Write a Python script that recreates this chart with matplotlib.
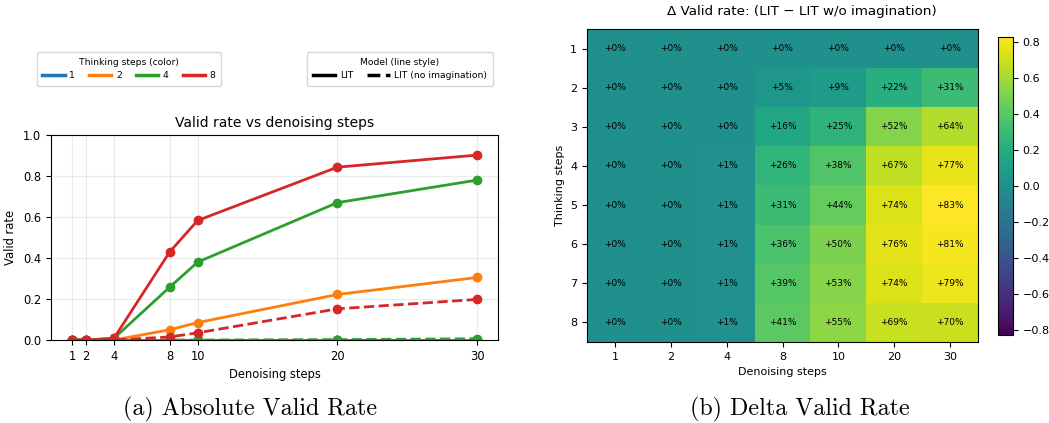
import numpy as np
import matplotlib
matplotlib.use("Agg")
import matplotlib.pyplot as plt
from matplotlib.lines import Line2D

# ---------------- data ----------------
denoising_steps = [1, 2, 4, 8, 10, 20, 30]
thinking_lines = [1, 2, 4, 8]
line_colors = ["#1f77b4", "#ff7f0e", "#2ca02c", "#d62728"]

lit_1 = [0, 0, 0, 0, 0, 0, 0]
lit_2 = [0, 0, 0, 0.050, 0.085, 0.222, 0.305]
lit_4 = [0, 0, 0.008, 0.258, 0.380, 0.670, 0.780]
lit_8 = [0, 0, 0.008, 0.430, 0.583, 0.843, 0.902]

noimg_1 = [0, 0, 0, 0, 0, 0, 0]
noimg_2 = [0, 0, 0, 0, 0, 0, 0]
noimg_4 = [0, 0, 0, 0, 0, 0.002, 0.006]
noimg_8 = [0, 0, 0, 0.015, 0.035, 0.152, 0.198]

thinking_rows = [1, 2, 3, 4, 5, 6, 7, 8]
delta_row_1 = [0, 0, 0, 0.00, 0.00, 0.00, 0.00]
delta_row_2 = [0, 0, 0, 0.05, 0.09, 0.22, 0.31]
delta_row_3 = [0, 0, 0, 0.16, 0.25, 0.52, 0.64]
delta_row_4 = [0, 0, 0.01, 0.26, 0.38, 0.67, 0.77]
delta_row_5 = [0, 0, 0.01, 0.31, 0.44, 0.74, 0.83]
delta_row_6 = [0, 0, 0.01, 0.36, 0.50, 0.76, 0.81]
delta_row_7 = [0, 0, 0.01, 0.39, 0.53, 0.74, 0.79]
delta_row_8 = [0, 0, 0.01, 0.41, 0.55, 0.69, 0.70]

lit_series = [lit_1, lit_2, lit_4, lit_8]
noimg_series = [noimg_1, noimg_2, noimg_4, noimg_8]
delta = np.array([delta_row_1, delta_row_2, delta_row_3, delta_row_4,
                  delta_row_5, delta_row_6, delta_row_7, delta_row_8])

# ---------------- figure ----------------
plt.rcParams["font.size"] = 8
W, H = 1049, 423
fig = plt.figure(figsize=(W / 100, H / 100), dpi=100)

def box(l, t, r, b):
    return [l / W, 1 - b / H, (r - l) / W, (b - t) / H]

# ---- left: line chart ----
ax1 = fig.add_axes(box(51, 135, 498, 340))
for c, ys in zip(line_colors, lit_series):
    ax1.plot(denoising_steps, ys, color=c, lw=2, marker="o", ms=6, ls="-")
for c, ys in zip(line_colors, noimg_series):
    ax1.plot(denoising_steps, ys, color=c, lw=2, marker="o", ms=6, ls="--")
ax1.set_xlim(-0.5, 31.5)
ax1.set_ylim(0, 1.0)
ax1.set_xticks(denoising_steps)
ax1.set_yticks([0, 0.2, 0.4, 0.6, 0.8, 1.0])
ax1.grid(True, alpha=0.25)
ax1.tick_params(labelsize=8.3)
ax1.set_title("Valid rate vs denoising steps", fontsize=10)
ax1.set_xlabel("Denoising steps", fontsize=8.3)
ax1.set_ylabel("Valid rate", fontsize=8.3)

color_handles = [Line2D([0], [0], color=c, lw=2.5) for c in line_colors]
leg1 = fig.legend(color_handles, [str(t) for t in thinking_lines],
                  title="Thinking steps (color)", ncol=4, fontsize=6.7,
                  title_fontsize=6.6, loc="center",
                  bbox_to_anchor=(129 / W, 1 - 69 / H), borderpad=0.6,
                  handlelength=2.4, columnspacing=1.5, handletextpad=0.5)
style_handles = [Line2D([0], [0], color="black", lw=2.5, ls="-"),
                 Line2D([0], [0], color="black", lw=2.5, ls="--")]
leg2 = fig.legend(style_handles, ["LIT", "LIT (no imagination)"],
                  title="Model (line style)", ncol=2, fontsize=6.7,
                  title_fontsize=6.6, loc="center",
                  bbox_to_anchor=(400 / W, 1 - 69 / H), borderpad=0.6,
                  handlelength=2.4, columnspacing=1.5, handletextpad=0.5)

# ---- right: heatmap ----
ax2 = fig.add_axes(box(587, 29, 978, 342))
vlim = float(np.abs(delta).max())
im = ax2.imshow(delta, cmap="viridis", vmin=-vlim, vmax=vlim, aspect="auto")
ax2.set_xticks(range(len(denoising_steps)))
ax2.set_xticklabels([str(d) for d in denoising_steps])
ax2.set_yticks(range(len(thinking_rows)))
ax2.set_yticklabels([str(t) for t in thinking_rows])
ax2.tick_params(labelsize=8)
for i in range(delta.shape[0]):
    for j in range(delta.shape[1]):
        ax2.text(j, i, f"+{int(round(delta[i, j] * 100))}%", ha="center",
                 va="center", fontsize=6.5, color="black")
fig.text(802 / W, 1 - 12 / H, "\u0394 Valid rate: (LIT \u2212 LIT w/o imagination)",
         ha="center", va="center", fontsize=9.7)
ax2.set_xlabel("Denoising steps", fontsize=8)
ax2.set_ylabel("Thinking steps", fontsize=8)

cax = fig.add_axes(box(998, 37, 1013, 335))
cb = fig.colorbar(im, cax=cax)
cb.set_ticks([-0.8, -0.6, -0.4, -0.2, 0.0, 0.2, 0.4, 0.6, 0.8])
cb.ax.tick_params(labelsize=8)

# ---- captions ----
fig.text(250 / W, 1 - 409 / H, "(a) Absolute Valid Rate", ha="center",
         va="center", fontsize=17.3, family="cmr10")
fig.text(800 / W, 1 - 409 / H, "(b) Delta Valid Rate", ha="center",
         va="center", fontsize=17.3, family="cmr10")

fig.savefig("out.png", dpi=100)
